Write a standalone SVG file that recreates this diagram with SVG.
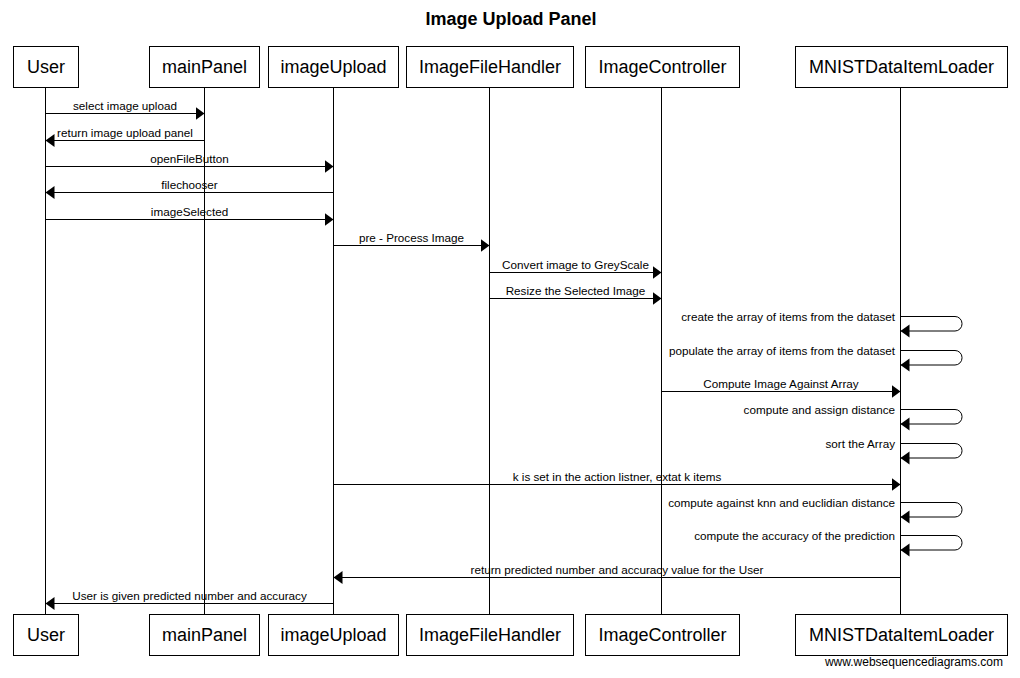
<svg xmlns="http://www.w3.org/2000/svg" width="1020" height="678" viewBox="0 0 1020 678">
<style>
.box{fill:#fff;stroke:#000;stroke-width:1}
.life{stroke:#000;stroke-width:1}
.pn{font-family:"Liberation Sans",Arial,sans-serif;font-size:18px;text-anchor:middle;fill:#000}
.msg{stroke:#000;stroke-width:1;fill:none;marker-end:url(#ah)}
.ml{font-family:"Liberation Sans",Arial,sans-serif;font-size:11.7px;text-anchor:middle;fill:#000}
.sl{font-family:"Liberation Sans",Arial,sans-serif;font-size:11.7px;text-anchor:end;fill:#000}
.title{font-family:"Liberation Sans",Arial,sans-serif;font-size:18px;font-weight:bold;text-anchor:middle;fill:#000}
</style>
<defs>
<marker id="ah" markerUnits="userSpaceOnUse" markerWidth="10" markerHeight="14" refX="9" refY="7" orient="auto" viewBox="0 0 10 14">
<path d="M0,0.5 L9,7 L0,13.5 z" fill="#000"/>
</marker>
</defs>
<rect width="1020" height="678" fill="#fff"/>
<text class="title" x="511" y="25">Image Upload Panel</text>

<g id="lifelines">
<line class="life" x1="45.5" y1="87" x2="45.5" y2="614"/>
<line class="life" x1="204.5" y1="87" x2="204.5" y2="614"/>
<line class="life" x1="333.5" y1="87" x2="333.5" y2="614"/>
<line class="life" x1="489.5" y1="87" x2="489.5" y2="614"/>
<line class="life" x1="661.5" y1="87" x2="661.5" y2="614"/>
<line class="life" x1="900.5" y1="87" x2="900.5" y2="614"/>
</g>

<g id="User">
<rect class="box" x="13.5" y="46.5" width="65" height="41"/>
<text class="pn" x="46" y="73">User</text>
<rect class="box" x="13.5" y="614.5" width="65" height="41"/>
<text class="pn" x="46" y="641">User</text>
</g>
<g id="mainPanel">
<rect class="box" x="149.5" y="46.5" width="110" height="41"/>
<text class="pn" x="204.5" y="73">mainPanel</text>
<rect class="box" x="149.5" y="614.5" width="110" height="41"/>
<text class="pn" x="204.5" y="641">mainPanel</text>
</g>
<g id="imageUpload">
<rect class="box" x="268.5" y="46.5" width="130" height="41"/>
<text class="pn" x="333.5" y="73">imageUpload</text>
<rect class="box" x="268.5" y="614.5" width="130" height="41"/>
<text class="pn" x="333.5" y="641">imageUpload</text>
</g>
<g id="ImageFileHandler">
<rect class="box" x="406.5" y="46.5" width="167" height="41"/>
<text class="pn" x="490" y="73">ImageFileHandler</text>
<rect class="box" x="406.5" y="614.5" width="167" height="41"/>
<text class="pn" x="490" y="641">ImageFileHandler</text>
</g>
<g id="ImageController">
<rect class="box" x="585.5" y="46.5" width="154" height="41"/>
<text class="pn" x="662.5" y="73">ImageController</text>
<rect class="box" x="585.5" y="614.5" width="154" height="41"/>
<text class="pn" x="662.5" y="641">ImageController</text>
</g>
<g id="MNISTDataItemLoader">
<rect class="box" x="795.5" y="46.5" width="212" height="41"/>
<text class="pn" x="901.5" y="73">MNISTDataItemLoader</text>
<rect class="box" x="795.5" y="614.5" width="212" height="41"/>
<text class="pn" x="901.5" y="641">MNISTDataItemLoader</text>
</g>

<g id="connectors">
<path class="msg" d="M45.5,113.5 H204.5"/>
<text class="ml" x="125" y="110">select image upload</text>
<path class="msg" d="M204.5,140.5 H45.5"/>
<text class="ml" x="125" y="137">return image upload panel</text>
<path class="msg" d="M45.5,166.5 H333.5"/>
<text class="ml" x="189.5" y="163">openFileButton</text>
<path class="msg" d="M333.5,192.5 H45.5"/>
<text class="ml" x="189.5" y="189">filechooser</text>
<path class="msg" d="M45.5,219.5 H333.5"/>
<text class="ml" x="189.5" y="216">imageSelected</text>
<path class="msg" d="M333.5,245.5 H489.5"/>
<text class="ml" x="411.5" y="242">pre - Process Image</text>
<path class="msg" d="M489.5,272.5 H661.5"/>
<text class="ml" x="575.5" y="269">Convert image to GreyScale</text>
<path class="msg" d="M489.5,298.5 H661.5"/>
<text class="ml" x="575.5" y="295">Resize the Selected Image</text>

<path class="msg" d="M900.5,316.5 H955 A7,7 0 0 1 962,323.5 V324 A7,7 0 0 1 955,331 H900.5"/>
<text class="sl" x="895" y="321">create the array of items from the dataset</text>
<path class="msg" d="M900.5,350.5 H955 A7,7 0 0 1 962,357.5 V358 A7,7 0 0 1 955,365 H900.5"/>
<text class="sl" x="895" y="355">populate the array of items from the dataset</text>

<path class="msg" d="M661.5,391.5 H900.5"/>
<text class="ml" x="781" y="388">Compute Image Against Array</text>

<path class="msg" d="M900.5,409.5 H955 A7,7 0 0 1 962,416.5 V417 A7,7 0 0 1 955,424 H900.5"/>
<text class="sl" x="895" y="414">compute and assign distance</text>
<path class="msg" d="M900.5,443.5 H955 A7,7 0 0 1 962,450.5 V451 A7,7 0 0 1 955,458 H900.5"/>
<text class="sl" x="895" y="448">sort the Array</text>

<path class="msg" d="M333.5,484.5 H900.5"/>
<text class="ml" x="617" y="481">k is set in the action listner, extat k items</text>

<path class="msg" d="M900.5,502.5 H955 A7,7 0 0 1 962,509.5 V510 A7,7 0 0 1 955,517 H900.5"/>
<text class="sl" x="895" y="507">compute against knn and euclidian distance</text>
<path class="msg" d="M900.5,535.5 H955 A7,7 0 0 1 962,542.5 V543 A7,7 0 0 1 955,550 H900.5"/>
<text class="sl" x="895" y="540">compute the accuracy of the prediction</text>

<path class="msg" d="M900.5,577.5 H333.5"/>
<text class="ml" x="617" y="574">return predicted number and accuracy value for the User</text>
<path class="msg" d="M333.5,603.5 H45.5"/>
<text class="ml" x="189.5" y="600">User is given predicted number and accuracy</text>
</g>

<text x="1003" y="666" font-family="Liberation Sans, Arial, sans-serif" font-size="12" text-anchor="end" fill="#000">www.websequencediagrams.com</text>
</svg>
